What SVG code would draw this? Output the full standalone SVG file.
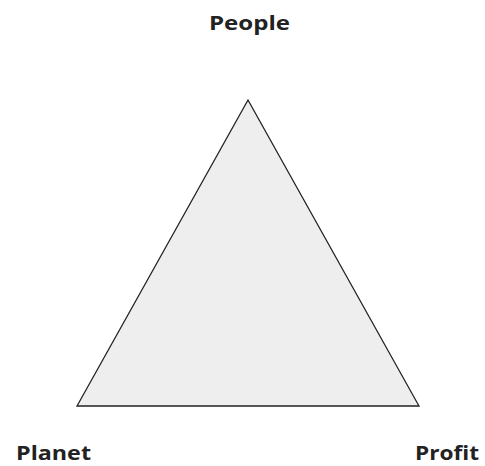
<svg xmlns="http://www.w3.org/2000/svg" width="485" height="466" viewBox="0 0 485 466">
<style>
.lbl{font-family:"Open Sans","Liberation Sans",sans-serif;font-weight:bold;font-size:19px;fill:#222}
</style>
<rect width="485" height="466" fill="#fff"/>
<g id="triangle">
<polygon points="248,100 77,406 419,406" fill="#eeeeee" stroke="#222" stroke-width="1.3"/>
</g>
<g id="people"><text class="lbl" x="249.5" y="30" text-anchor="middle" textLength="81" lengthAdjust="spacingAndGlyphs">People</text></g>
<g id="planet"><text class="lbl" x="16" y="460" textLength="75" lengthAdjust="spacingAndGlyphs">Planet</text></g>
<g id="profit"><text class="lbl" x="415" y="460" textLength="64" lengthAdjust="spacingAndGlyphs">Profit</text></g>
<g id="connectors"/>
</svg>
